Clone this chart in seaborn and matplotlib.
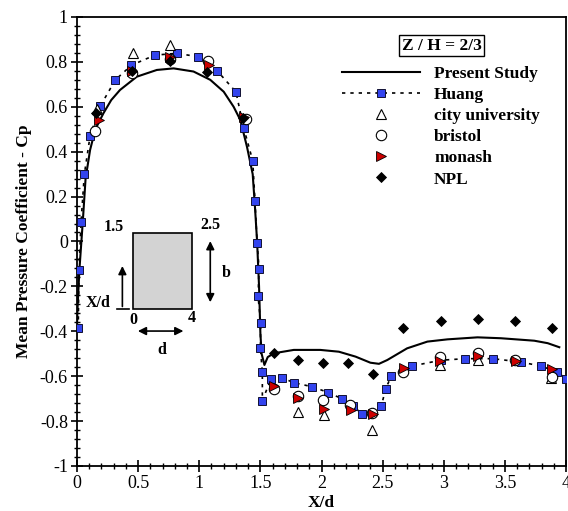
import matplotlib
matplotlib.use("Agg")
import matplotlib.pyplot as plt
from matplotlib.lines import Line2D
from matplotlib.patches import Rectangle, FancyArrowPatch
from matplotlib.ticker import MultipleLocator, FuncFormatter
import seaborn as sns

# Present Study (CFD)
present_x = [0.0, 0.003, 0.019, 0.047, 0.07, 0.107, 0.15, 0.216, 0.28, 0.352, 0.489, 0.653,
             0.79, 0.953, 1.09, 1.2, 1.281, 1.336, 1.391, 1.437, 1.456, 1.473, 1.489, 1.50,
             1.51, 1.533, 1.56, 1.61, 1.773, 1.99, 2.142, 2.279, 2.40, 2.47, 2.538, 2.70,
             2.866, 3.03, 3.276, 3.467, 3.74, 3.85, 3.945]
present_y = [-0.38, -0.31, -0.13, 0.087, 0.28, 0.408, 0.5, 0.571, 0.63, 0.675, 0.734, 0.764,
             0.771, 0.757, 0.72, 0.667, 0.60, 0.541, 0.42, 0.30, 0.15, 0.0, -0.2, -0.41,
             -0.5, -0.55, -0.515, -0.498, -0.483, -0.483, -0.491, -0.513, -0.54, -0.545,
             -0.528, -0.476, -0.446, -0.436, -0.427, -0.431, -0.442, -0.453, -0.471]

# Huang
huang_x = [0.01, 0.016, 0.033, 0.06, 0.107, 0.19, 0.314, 0.445, 0.637, 0.817, 0.99, 1.145,
           1.30, 1.363, 1.437, 1.456, 1.473, 1.489, 1.481, 1.502, 1.50, 1.516, 1.516, 1.587,
           1.678, 1.773, 1.923, 2.057, 2.164, 2.257, 2.33, 2.49, 2.525, 2.571, 2.738, 2.975,
           3.175, 3.40, 3.631, 3.795, 3.924, 4.0]
huang_y = [-0.385, -0.127, 0.087, 0.30, 0.47, 0.603, 0.72, 0.785, 0.83, 0.838, 0.823, 0.761,
           0.666, 0.507, 0.36, 0.179, -0.005, -0.121, -0.244, -0.363, -0.473, -0.583, -0.709,
           -0.611, -0.607, -0.629, -0.647, -0.673, -0.70, -0.733, -0.767, -0.731, -0.656,
           -0.599, -0.555, -0.529, -0.522, -0.522, -0.537, -0.555, -0.58, -0.611]

# City University
city_x = [0.161, 0.456, 0.762, 1.809, 2.022, 2.415, 2.97, 3.28, 3.877]
city_y = [0.592, 0.841, 0.877, -0.758, -0.773, -0.84, -0.55, -0.528, -0.607]

# Bristol
bristol_x = [0.15, 0.451, 0.757, 1.068, 1.385, 1.609, 1.809, 2.016, 2.23, 2.415, 2.67, 2.97,
             3.28, 3.585, 3.883]
bristol_y = [0.491, 0.749, 0.814, 0.805, 0.544, -0.658, -0.688, -0.706, -0.73, -0.765, -0.58,
             -0.513, -0.498, -0.529, -0.602]

# Monash
monash_x = [0.178, 0.451, 0.757, 1.076, 1.363, 1.609, 1.809, 2.022, 2.238, 2.42, 2.675, 2.97,
            3.28, 3.59, 3.883]
monash_y = [0.541, 0.76, 0.82, 0.786, 0.556, -0.644, -0.699, -0.745, -0.751, -0.768, -0.563,
            -0.534, -0.51, -0.532, -0.569]

# NPL
npl_x = [0.156, 0.451, 0.757, 1.063, 1.358, 1.612, 1.809, 2.016, 2.213, 2.42, 2.67, 2.98,
         3.28, 3.582, 3.883]
npl_y = [0.574, 0.758, 0.805, 0.757, 0.55, -0.498, -0.528, -0.54, -0.54, -0.59, -0.387, -0.356,
         -0.347, -0.356, -0.384]

series_labels = ["Present Study", "Huang", "city university", "bristol", "monash", "NPL"]

plt.rcParams["font.family"] = ["Liberation Serif", "DejaVu Serif"]
plt.rcParams["axes.unicode_minus"] = False

BLUE = "#3344ee"
RED = "#cc0000"

fig = plt.figure(figsize=(5.68, 5.11), dpi=100)
ax = fig.add_axes([0.1356, 0.0881, 0.8609, 0.8787])

sns.lineplot(x=present_x, y=present_y, sort=False, estimator=None, color="black",
             lw=1.5, ax=ax, legend=False)
sns.lineplot(x=huang_x, y=huang_y, sort=False, estimator=None, color="black",
             lw=1.2, linestyle=(0, (2, 3)), ax=ax, legend=False)
ax.plot(huang_x, huang_y, ls="none", marker="s", ms=5.6, mfc=BLUE, mec="#111133", mew=0.7,
        zorder=3)
ax.plot(city_x, city_y, ls="none", marker="^", ms=6.5, mfc="white", mec="black", mew=0.8,
        zorder=4)
ax.plot(bristol_x, bristol_y, ls="none", marker="o", ms=7.5, mfc="white", mec="black",
        mew=0.8, zorder=5)
ax.plot(monash_x, monash_y, ls="none", marker=">", ms=6.5, mfc=RED, mec="black", mew=0.6,
        zorder=6)
ax.plot(npl_x, npl_y, ls="none", marker="D", ms=5.5, mfc="black", mec="black", mew=0.6,
        zorder=7)

ax.set_xlim(0, 4)
ax.set_ylim(-1, 1)
ax.xaxis.set_major_locator(MultipleLocator(0.5))
ax.xaxis.set_minor_locator(MultipleLocator(0.1))
ax.yaxis.set_major_locator(MultipleLocator(0.2))
ax.yaxis.set_minor_locator(MultipleLocator(0.04))
fmt = FuncFormatter(lambda v, p: f"{round(v, 2):g}" if abs(v) > 1e-9 else "0")
ax.xaxis.set_major_formatter(fmt)
ax.yaxis.set_major_formatter(fmt)
ax.tick_params(which="major", direction="inout", length=9, width=1.2, labelsize=13,
               top=False, right=False, pad=2)
ax.tick_params(which="minor", direction="inout", length=5, width=1.0, top=False, right=False)
for s in ax.spines.values():
    s.set_linewidth(1.3)

ax.set_xlabel("X/d", fontsize=12.5, fontweight="bold", labelpad=2)
ax.set_ylabel("Mean Pressure Coefficient - Cp", fontsize=12.5, fontweight="bold", labelpad=6)

# title box
ax.text(2.984, 0.872, "Z / H = 2/3", ha="center", va="center", fontsize=12.5,
        fontweight="bold",
        bbox=dict(boxstyle="square,pad=0.15", fc="white", ec="black", lw=1.0))

# legend
handles = [
    Line2D([], [], color="black", lw=1.5),
    Line2D([], [], color="black", lw=1.2, ls=(0, (2, 3)), marker="s", ms=5.6, mfc=BLUE,
           mec="#111133", mew=0.7),
    Line2D([], [], ls="none", marker="^", ms=6.5, mfc="white", mec="black", mew=0.8),
    Line2D([], [], ls="none", marker="o", ms=7.5, mfc="white", mec="black", mew=0.8),
    Line2D([], [], ls="none", marker=">", ms=6.5, mfc=RED, mec="black", mew=0.6),
    Line2D([], [], ls="none", marker="D", ms=5.5, mfc="black", mec="black", mew=0.6),
]
leg = ax.legend(handles, series_labels, loc="upper left", bbox_to_anchor=(0.542, 0.892),
                frameon=False, handlelength=4.5, handletextpad=0.8, labelspacing=0.29,
                borderpad=0, borderaxespad=0,
                prop={"family": "Liberation Serif", "weight": "bold", "size": 12.5})

# building sketch
ax.add_patch(Rectangle((0.456, -0.302), 0.484, 0.341, fc="#d3d3d3", ec="black", lw=1.2,
                       zorder=2))
arrow_kw = dict(color="black", lw=1.2, mutation_scale=12, zorder=2)
ax.add_patch(FancyArrowPatch((0.371, -0.302), (0.371, -0.097), arrowstyle="-|>", **arrow_kw))
ax.plot([0.325, 0.429], [-0.302, -0.302], color="black", lw=1.2)
ax.add_patch(FancyArrowPatch((1.09, 0.014), (1.09, -0.283), arrowstyle="<|-|>", **arrow_kw))
ax.add_patch(FancyArrowPatch((0.475, -0.399), (0.893, -0.399), arrowstyle="<|-|>", **arrow_kw))
sk = dict(fontsize=11.5, fontweight="bold", ha="center", va="center")
ax.text(0.298, 0.066, "1.5", **sk)
ax.text(1.09, 0.073, "2.5", **sk)
ax.text(0.175, -0.275, "X/d", **sk)
ax.text(0.46, -0.35, "0", **sk)
ax.text(0.94, -0.342, "4", **sk)
ax.text(1.22, -0.142, "b", **sk)
ax.text(0.694, -0.483, "d", **sk)

fig.savefig("out.png", dpi=100)
